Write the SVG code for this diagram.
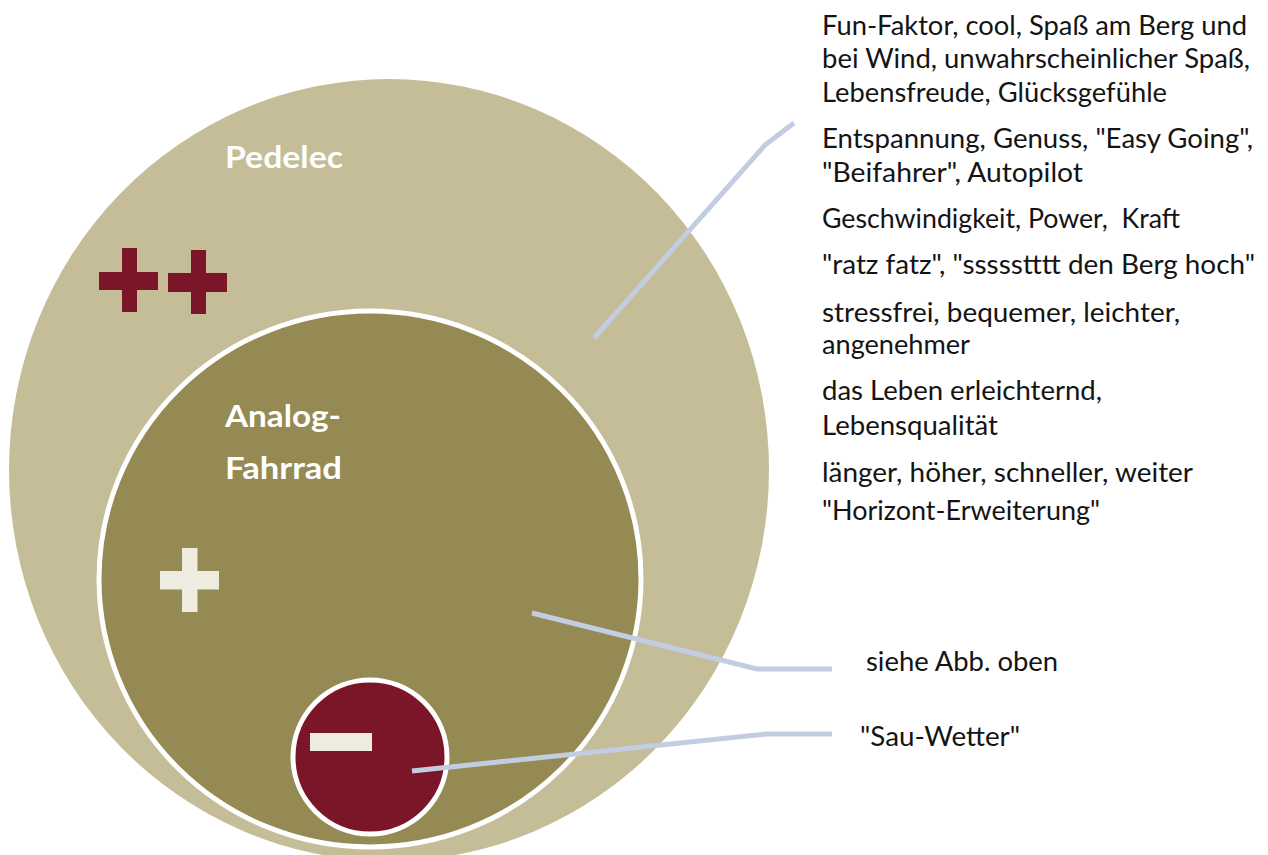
<svg xmlns="http://www.w3.org/2000/svg" width="1268" height="855" viewBox="0 0 1268 855">
  <style>
    .body { font-family: Lato, "Open Sans", "Liberation Sans", sans-serif; font-size: 26px; fill: #141414; }
    .title { font-family: Lato, "Open Sans", "Liberation Sans", sans-serif; font-size: 30px; font-weight: bold; fill: #ffffff; }
    .conn { fill: none; stroke: #c3cde1; stroke-width: 5; stroke-linejoin: miter; }
    .red { fill: #7b1628; }
    .light { fill: #eeebe1; }
  </style>
  <rect width="1268" height="855" fill="#ffffff"/>

  <!-- outer set: Pedelec -->
  <g id="pedelec">
    <ellipse cx="389" cy="470" rx="380" ry="391" fill="#c4bd98"/>
    <text class="title" x="225" y="168" textLength="118" lengthAdjust="spacingAndGlyphs">Pedelec</text>
    <g class="red">
      <rect x="122" y="248" width="15" height="64"/>
      <rect x="99" y="272" width="59" height="18"/>
      <rect x="191" y="250" width="15" height="64"/>
      <rect x="168" y="273" width="59" height="19"/>
    </g>
  </g>

  <!-- middle set: Analog-Fahrrad -->
  <g id="analog">
    <ellipse cx="370" cy="579" rx="271" ry="268" fill="#958a54" stroke="#ffffff" stroke-width="5"/>
    <text class="title" x="225" y="427" textLength="116" lengthAdjust="spacingAndGlyphs">Analog-</text>
    <text class="title" x="225" y="479" textLength="117" lengthAdjust="spacingAndGlyphs">Fahrrad</text>
    <g class="light">
      <rect x="182" y="548" width="15.5" height="64"/>
      <rect x="160" y="571" width="59" height="18.5"/>
    </g>
  </g>

  <!-- inner set: bad weather -->
  <g id="minus">
    <circle cx="370" cy="757" r="77" class="red" stroke="#ffffff" stroke-width="5"/>
    <rect x="310" y="733" width="62" height="18" class="light"/>
  </g>

  <!-- leader lines -->
  <g id="connectors">
    <polyline class="conn" points="594,338 765,145 794,123"/>
    <polyline class="conn" points="532,613 757,669 832,669"/>
    <polyline class="conn" points="412,771 766,734 832,734"/>
  </g>

  <!-- annotations -->
  <g id="notes-pedelec">
    <text class="body" x="822" y="35" textLength="425" lengthAdjust="spacingAndGlyphs">Fun-Faktor, cool, Spaß am Berg und</text>
    <text class="body" x="822" y="68" textLength="428" lengthAdjust="spacingAndGlyphs">bei Wind, unwahrscheinlicher Spaß,</text>
    <text class="body" x="822" y="102" textLength="345" lengthAdjust="spacingAndGlyphs">Lebensfreude, Glücksgefühle</text>
    <text class="body" x="822" y="148" textLength="431" lengthAdjust="spacingAndGlyphs">Entspannung, Genuss, "Easy Going",</text>
    <text class="body" x="822" y="182" textLength="261" lengthAdjust="spacingAndGlyphs">"Beifahrer", Autopilot</text>
    <text class="body" x="822" y="228" textLength="358" lengthAdjust="spacingAndGlyphs">Geschwindigkeit, Power,&#160; Kraft</text>
    <text class="body" x="822" y="274" textLength="433" lengthAdjust="spacingAndGlyphs">"ratz fatz", "ssssstttt den Berg hoch"</text>
    <text class="body" x="822" y="322" textLength="358" lengthAdjust="spacingAndGlyphs">stressfrei, bequemer, leichter,</text>
    <text class="body" x="822" y="354" textLength="148" lengthAdjust="spacingAndGlyphs">angenehmer</text>
    <text class="body" x="822" y="400" textLength="280" lengthAdjust="spacingAndGlyphs">das Leben erleichternd,</text>
    <text class="body" x="822" y="435" textLength="176" lengthAdjust="spacingAndGlyphs">Lebensqualität</text>
    <text class="body" x="822" y="482" textLength="371" lengthAdjust="spacingAndGlyphs">länger, höher, schneller, weiter</text>
    <text class="body" x="822" y="520" textLength="278" lengthAdjust="spacingAndGlyphs">"Horizont-Erweiterung"</text>
  </g>
  <g id="notes-analog">
    <text class="body" x="866" y="671" textLength="192" lengthAdjust="spacingAndGlyphs">siehe Abb. oben</text>
  </g>
  <g id="notes-minus">
    <text class="body" x="860" y="746" textLength="160" lengthAdjust="spacingAndGlyphs">"Sau-Wetter"</text>
  </g>
</svg>
